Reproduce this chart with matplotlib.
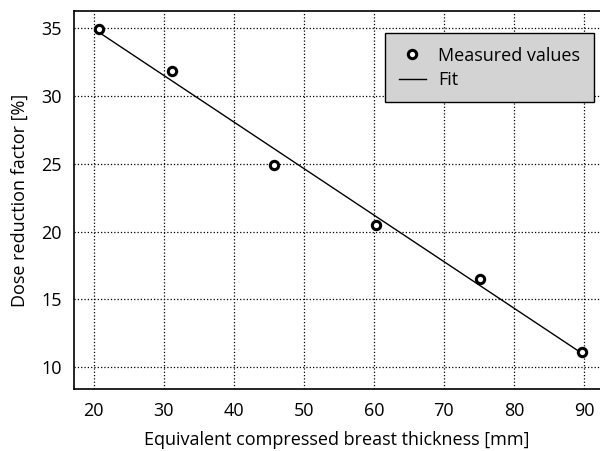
import matplotlib
matplotlib.use('Agg')
from matplotlib import pyplot as plt

# measured points
thickness = [20.7, 31.2, 45.7, 60.3, 75.1, 89.8]
dose_red = [34.9, 31.8, 24.9, 20.5, 16.5, 11.1]

# fit line end points
fit_x = [20.7, 89.8]
fit_y = [34.7, 11.0]

xticks = [20, 30, 40, 50, 60, 70, 80, 90]
yticks = [10, 15, 20, 25, 30, 35]

plt.rcParams['font.family'] = ['Open Sans', 'DejaVu Sans']
fs = 13

fig = plt.figure(figsize=(6, 4.51), dpi=100)
ax = fig.add_axes([74/600, 1 - 389/451, 1 - 74/600, (389 - 11)/451])

ax.plot(thickness, dose_red, 'o', mfc='white', mec='black', mew=2.2, ms=6,
        label='Measured values', zorder=3)
ax.plot(fit_x, fit_y, '-', color='black', lw=1, label='Fit', zorder=2)

ax.set_xlim(17.2, 92.3)
ax.set_ylim(8.4, 36.25)
ax.set_xticks(xticks)
ax.set_yticks(yticks)
ax.grid(True, color='black', linestyle=':', linewidth=0.9)
ax.tick_params(length=0, labelsize=fs, pad=9)
ax.spines['right'].set_visible(False)
for s in ['top', 'left', 'bottom']:
    ax.spines[s].set_linewidth(1.2)

ax.set_xlabel('Equivalent compressed breast thickness [mm]', fontsize=fs, labelpad=8)
ax.set_ylabel('Dose reduction factor [%]', fontsize=fs, labelpad=9)

leg = ax.legend(loc='upper right', bbox_to_anchor=(594/600, 1 - 33/451),
                bbox_transform=fig.transFigure, fancybox=False, framealpha=1,
                facecolor='#d3d3d3', edgecolor='black', fontsize=fs,
                borderpad=0.75, handlelength=1.5, handletextpad=0.7,
                labelspacing=0.35, borderaxespad=0)
leg.get_frame().set_linewidth(1.0)

fig.savefig('out.png', dpi=100)
